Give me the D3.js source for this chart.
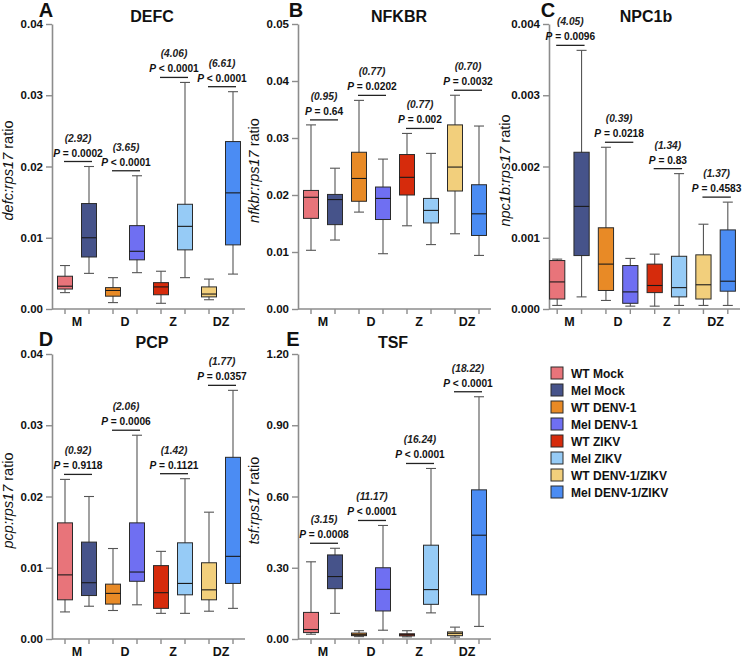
<!DOCTYPE html>
<html>
<head>
<meta charset="utf-8">
<script src="https://cdn.jsdelivr.net/npm/d3@7"></script>
<style>
  body { margin: 0; background: #fff; }
  svg { font-family: "Liberation Sans", Arial, Helvetica, sans-serif; }
</style>
</head>
<body>
<svg id="chart" width="746" height="659"></svg>
<script>
// ── Data ──────────────────────────────────────────────────────────────────────
const groups = ['WT Mock', 'Mel Mock', 'WT DENV-1', 'Mel DENV-1',
                'WT ZIKV', 'Mel ZIKV', 'WT DENV-1/ZIKV', 'Mel DENV-1/ZIKV'];
const groupColors = ['#e8747a', '#46538a', '#e88a26', '#6f6ff2',
                     '#d62b0c', '#96cbf6', '#f2cf7c', '#4b8cf3'];
const pairLabels = ['M', 'D', 'Z', 'DZ'];

// box stats per group: [min, q1, median, q3, max]
const defcStats = [
  [0.0023, 0.0028, 0.0032, 0.0046, 0.0061],
  [0.0050, 0.0073, 0.0100, 0.0148, 0.0200],
  [0.0009, 0.0018, 0.0026, 0.0030, 0.0044],
  [0.0051, 0.0069, 0.0081, 0.0117, 0.0187],
  [0.0008, 0.0020, 0.0031, 0.0037, 0.0053],
  [0.0044, 0.0083, 0.0116, 0.0147, 0.0318],
  [0.0013, 0.0017, 0.0021, 0.0031, 0.0042],
  [0.0049, 0.0090, 0.0163, 0.0235, 0.0305]
];
const defcRatios = ['(2.92)', '(3.65)', '(4.06)', '(6.61)'];
const defcP = ['= 0.0002', '< 0.0001', '< 0.0001', '< 0.0001'];

const nfkbrStats = [
  [0.0103, 0.0159, 0.0196, 0.0208, 0.0323],
  [0.0121, 0.0148, 0.0192, 0.0201, 0.0247],
  [0.0170, 0.0189, 0.0229, 0.0275, 0.0366],
  [0.0097, 0.0157, 0.0194, 0.0214, 0.0263],
  [0.0146, 0.0200, 0.0231, 0.0271, 0.0308],
  [0.0113, 0.0151, 0.0173, 0.0194, 0.0273],
  [0.0132, 0.0207, 0.0249, 0.0323, 0.0375],
  [0.0094, 0.0129, 0.0167, 0.0218, 0.0321]
];
const nfkbrRatios = ['(0.95)', '(0.77)', '(0.77)', '(0.70)'];
const nfkbrP = ['= 0.64', '= 0.0202', '= 0.002', '= 0.0032'];

const npc1bStats = [
  [0.00005, 0.00014, 0.00038, 0.00068, 0.00070],
  [0.00017, 0.00075, 0.00144, 0.00220, 0.00363],
  [0.00012, 0.00026, 0.00063, 0.00114, 0.00227],
  [0.00004, 0.00008, 0.00024, 0.00061, 0.00071],
  [0.00004, 0.00023, 0.00033, 0.00063, 0.00077],
  [0.00005, 0.00017, 0.00030, 0.00074, 0.00190],
  [0.00005, 0.00014, 0.00034, 0.00076, 0.00119],
  [0.00005, 0.00025, 0.00039, 0.00111, 0.00150]
];
const npc1bRatios = ['(4.05)', '(0.39)', '(1.34)', '(1.37)'];
const npc1bP = ['= 0.0096', '= 0.0218', '= 0.83', '= 0.4583'];

const pcpStats = [
  [0.0038, 0.0055, 0.0090, 0.0163, 0.0224],
  [0.0046, 0.0061, 0.0079, 0.0136, 0.0200],
  [0.0040, 0.0049, 0.0064, 0.0077, 0.0127],
  [0.0048, 0.0081, 0.0094, 0.0163, 0.0286],
  [0.0036, 0.0043, 0.0065, 0.0103, 0.0123],
  [0.0036, 0.0062, 0.0078, 0.0135, 0.0225],
  [0.0039, 0.0055, 0.0069, 0.0107, 0.0178],
  [0.0043, 0.0078, 0.0116, 0.0255, 0.0349]
];
const pcpRatios = ['(0.92)', '(2.06)', '(1.42)', '(1.77)'];
const pcpP = ['= 0.9118', '= 0.0006', '= 0.1121', '= 0.0357'];

const tsfStats = [
  [0.020, 0.027, 0.040, 0.112, 0.325],
  [0.108, 0.212, 0.263, 0.354, 0.382],
  [0.010, 0.014, 0.018, 0.025, 0.035],
  [0.037, 0.118, 0.209, 0.300, 0.478],
  [0.009, 0.013, 0.018, 0.022, 0.035],
  [0.110, 0.146, 0.208, 0.395, 0.718],
  [0.008, 0.014, 0.024, 0.030, 0.050],
  [0.053, 0.186, 0.437, 0.628, 1.020]
];
const tsfRatios = ['(3.15)', '(11.17)', '(16.24)', '(18.22)'];
const tsfP = ['= 0.0008', '< 0.0001', '< 0.0001', '< 0.0001'];

const panels = [
  { letter: 'A', title: 'DEFC',  gene: 'defc',  stats: defcStats,  ratios: defcRatios,  pvals: defcP,  yMax: 0.04,  yStep: 0.01,  fmt: '.2f' },
  { letter: 'B', title: 'NFKBR', gene: 'nfkbr', stats: nfkbrStats, ratios: nfkbrRatios, pvals: nfkbrP, yMax: 0.05,  yStep: 0.01,  fmt: '.2f' },
  { letter: 'C', title: 'NPC1b', gene: 'npc1b', stats: npc1bStats, ratios: npc1bRatios, pvals: npc1bP, yMax: 0.004, yStep: 0.001, fmt: '.3f' },
  { letter: 'D', title: 'PCP',   gene: 'pcp',   stats: pcpStats,   ratios: pcpRatios,   pvals: pcpP,   yMax: 0.04,  yStep: 0.01,  fmt: '.2f' },
  { letter: 'E', title: 'TSF',   gene: 'tsf',   stats: tsfStats,   ratios: tsfRatios,   pvals: tsfP,   yMax: 1.2,   yStep: 0.3,   fmt: '.2f' }
];

// ── Layout ────────────────────────────────────────────────────────────────────
const layout = [
  { axisX: 52,  x0: 53,  w: 192, top: 24,  bottom: 309, letterX: 46,  letterY: 17,  titleX: 152, titleY: 22 },
  { axisX: 298, x0: 299, w: 192, top: 24,  bottom: 309, letterX: 296, letterY: 17,  titleX: 399, titleY: 22 },
  { axisX: 549, x0: 545, w: 195, top: 24,  bottom: 309, letterX: 548, letterY: 17,  titleX: 646, titleY: 22 },
  { axisX: 52,  x0: 53,  w: 192, top: 354, bottom: 639, letterX: 46,  letterY: 346, titleX: 152, titleY: 348 },
  { axisX: 298, x0: 299, w: 192, top: 354, bottom: 639, letterX: 293, letterY: 346, titleX: 393, titleY: 348 }
];

const AXIS_COLOR = '#8c8c8c';
const svg = d3.select('#chart');

// ── Panels ────────────────────────────────────────────────────────────────────
panels.forEach((p, i) => {
  const L = layout[i];
  const g = svg.append('g').attr('class', 'panel');

  const y = d3.scaleLinear().domain([0, p.yMax]).range([L.bottom, L.top]);
  const x = d3.scaleBand()
    .domain(d3.range(groups.length))
    .range([L.x0, L.x0 + L.w])
    .paddingInner(0.375)
    .paddingOuter(0.1875);
  const cx = j => x(j) + x.bandwidth() / 2;
  const bw = x.bandwidth();

  // y axis
  const yAxis = d3.axisLeft(y)
    .tickValues(d3.range(0, p.yMax + p.yStep / 2, p.yStep))
    .tickFormat(d3.format(p.fmt))
    .tickSize(6)
    .tickSizeOuter(0)
    .tickPadding(3);
  const ya = g.append('g').attr('transform', `translate(${L.axisX},0)`).call(yAxis);
  ya.select('.domain').attr('stroke', AXIS_COLOR).attr('stroke-width', 1.6);
  ya.selectAll('.tick line').attr('stroke', AXIS_COLOR).attr('stroke-width', 1.4);
  ya.selectAll('.tick text')
    .attr('fill', '#111').attr('font-size', 11.5).attr('font-weight', 'bold')
    .attr('font-family', '"Liberation Sans", Arial, sans-serif');

  // x axis
  const xAxis = d3.axisBottom(x).tickFormat('').tickSize(5).tickSizeOuter(0);
  const xa = g.append('g').attr('transform', `translate(0,${L.bottom})`).call(xAxis);
  xa.select('.domain').remove();
  xa.selectAll('.tick line').attr('stroke', AXIS_COLOR).attr('stroke-width', 1.4);
  g.append('line')
    .attr('x1', L.axisX).attr('x2', L.x0 + L.w)
    .attr('y1', L.bottom).attr('y2', L.bottom)
    .attr('stroke', AXIS_COLOR).attr('stroke-width', 1.6);

  // category labels
  g.selectAll('.cat')
    .data(pairLabels)
    .join('text')
    .attr('class', 'cat')
    .attr('x', (d, k) => (cx(2 * k) + cx(2 * k + 1)) / 2)
    .attr('y', L.bottom + 17)
    .attr('text-anchor', 'middle')
    .attr('font-size', 12.5).attr('font-weight', 'bold').attr('fill', '#111')
    .text(d => d);

  // y label
  const yl = g.append('text')
    .attr('transform', `translate(${L.axisX - 39},${(L.top + L.bottom) / 2 + 4}) rotate(-90)`)
    .attr('text-anchor', 'middle')
    .attr('font-size', 14.5).attr('fill', '#111');
  yl.append('tspan').attr('font-style', 'italic').text(`${p.gene}:rps17`);
  yl.append('tspan').text(' ratio');

  // panel letter + title
  g.append('text')
    .attr('x', L.letterX).attr('y', L.letterY)
    .attr('text-anchor', 'middle')
    .attr('font-size', 20).attr('font-weight', 'bold').attr('fill', '#111')
    .text(p.letter);
  g.append('text')
    .attr('x', L.titleX).attr('y', L.titleY)
    .attr('text-anchor', 'middle')
    .attr('font-size', 16).attr('font-weight', 'bold').attr('fill', '#111')
    .text(p.title);

  // boxes
  const box = g.selectAll('.box')
    .data(p.stats)
    .join('g')
    .attr('class', 'box');

  box.append('line')
    .attr('x1', (d, j) => cx(j)).attr('x2', (d, j) => cx(j))
    .attr('y1', d => y(d[0])).attr('y2', d => y(d[4]))
    .attr('stroke', '#555').attr('stroke-width', 1.1);
  [0, 4].forEach(k => {
    box.append('line')
      .attr('x1', (d, j) => cx(j) - 5).attr('x2', (d, j) => cx(j) + 5)
      .attr('y1', d => y(d[k])).attr('y2', d => y(d[k]))
      .attr('stroke', '#555').attr('stroke-width', 1.1);
  });
  box.append('rect')
    .attr('x', (d, j) => cx(j) - bw / 2)
    .attr('width', bw)
    .attr('y', d => y(d[3]))
    .attr('height', d => y(d[1]) - y(d[3]))
    .attr('fill', (d, j) => groupColors[j])
    .attr('stroke', '#2a2a2a').attr('stroke-width', 1);
  box.append('line')
    .attr('x1', (d, j) => cx(j) - bw / 2).attr('x2', (d, j) => cx(j) + bw / 2)
    .attr('y1', d => y(d[2])).attr('y2', d => y(d[2]))
    .attr('stroke', '#1a1a1a').attr('stroke-width', 1.1);

  // comparison annotations
  pairLabels.forEach((lab, k) => {
    const a = 2 * k, b = 2 * k + 1;
    const top = y(Math.max(p.stats[a][4], p.stats[b][4])) - 5;
    const x1 = cx(a) - 1, x2 = cx(b) + 3;
    const mid = (x1 + x2) / 2;
    g.append('line')
      .attr('x1', x1).attr('x2', x2).attr('y1', top).attr('y2', top)
      .attr('stroke', '#222').attr('stroke-width', 1.3);
    const pt = g.append('text')
      .attr('x', mid).attr('y', top - 5)
      .attr('text-anchor', 'middle')
      .attr('font-size', 10.2).attr('font-weight', 'bold').attr('fill', '#111');
    pt.append('tspan').attr('font-style', 'italic').text('P');
    pt.append('tspan').text(' ' + p.pvals[k]);
    g.append('text')
      .attr('x', mid).attr('y', top - 20)
      .attr('text-anchor', 'middle')
      .attr('font-size', 10.2).attr('font-weight', 'bold').attr('font-style', 'italic')
      .attr('fill', '#222')
      .text(p.ratios[k]);
  });
});

// ── Legend ────────────────────────────────────────────────────────────────────
const legend = svg.append('g').attr('transform', 'translate(551,373)');
const item = legend.selectAll('.item')
  .data(groups)
  .join('g')
  .attr('class', 'item')
  .attr('transform', (d, i) => `translate(0,${i * 17})`);
item.append('rect')
  .attr('x', 0).attr('y', -6).attr('width', 12).attr('height', 12)
  .attr('fill', (d, i) => groupColors[i])
  .attr('stroke', '#2a2a2a').attr('stroke-width', 1);
item.append('text')
  .attr('x', 20).attr('y', 4.5)
  .attr('font-size', 12).attr('font-weight', 'bold').attr('fill', '#111')
  .text(d => d);
</script>
</body>
</html>
